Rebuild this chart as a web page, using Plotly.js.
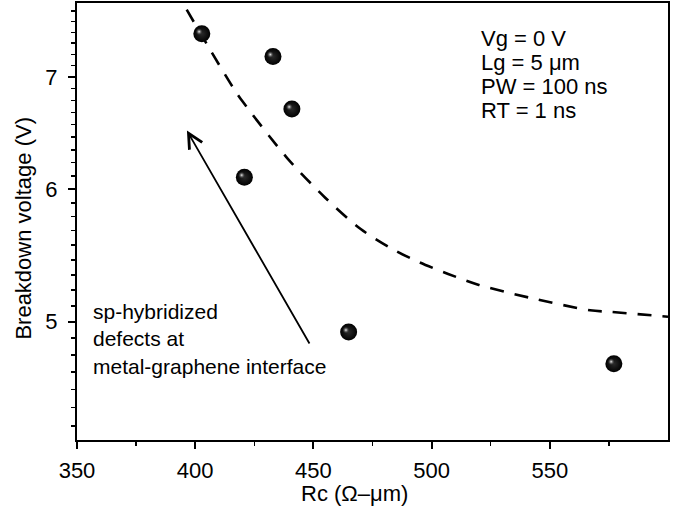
<!DOCTYPE html>
<html>
<head>
<meta charset="utf-8">
<script src="https://cdn.plot.ly/plotly-3.0.1.min.js"></script>
<style>html,body{margin:0;padding:0;background:#fff;}#chart{width:681px;height:508px;}</style>
</head>
<body>
<div id="chart"></div>
<script>
// Measured points: contact resistance Rc (Ω-μm) vs breakdown voltage (V)
const rc = [402.8, 432.9, 440.9, 420.8, 464.9, 577.1];
const vbd = [7.43, 7.20, 6.70, 6.10, 4.93, 4.72];

// Dashed guide curve
const fitRc = [396.4, 405, 416, 420, 439, 455, 470, 485, 495, 507, 520, 541, 567, 576, 600];
const fitV  = [7.68, 7.32, 6.90, 6.77, 6.26, 5.93, 5.68, 5.51, 5.425, 5.34, 5.26, 5.17, 5.08, 5.068, 5.035];

// Axis ticks
const xTickVals = [350, 400, 450, 500, 550];
const yTickVals = [5, 6, 7];
const yTickText = ['5', '6', '7'];
const yMinorVals = [4.333, 4.444, 4.556, 4.667, 4.778, 4.889,
                    5.111, 5.222, 5.333, 5.444, 5.556, 5.667, 5.778, 5.889,
                    6.111, 6.222, 6.333, 6.444, 6.556, 6.667, 6.778, 6.889,
                    7.111, 7.222, 7.333, 7.444, 7.556, 7.667];

// Texts
const xTitle = 'Rc (Ω–μm)';
const yTitle = 'Breakdown voltage (V)';
const condLines = ['Vg = 0 V', 'Lg = 5 μm', 'PW = 100 ns', 'RT = 1 ns'];
const noteText = 'sp-hybridized<br>defects at<br>metal-graphene interface';
// Arrow (tail -> head) in data units
const arrowTail = [448.7, 4.843];
const arrowHead = [396.5, 6.503];

const FONT = 'Arial, "Liberation Sans", sans-serif';
const xRange = [350, 600];
const yRange = [Math.log10(4.25), Math.log10(7.75)];
// highlight offset axes (shift spheres' highlight a few px up-left)
const pxPerX = 591 / (xRange[1] - xRange[0]);
const pxPerLog = 437 / (yRange[1] - yRange[0]);
const dx = 2.7 / pxPerX, dy = 2.0 / pxPerLog;

const traces = [
  {
    x: fitRc, y: fitV, mode: 'lines', type: 'scatter',
    line: {color: '#000', width: 2.6, dash: '14px,11px', shape: 'spline', smoothing: 0.8},
    hoverinfo: 'skip', showlegend: false
  },
  {
    x: rc, y: vbd, mode: 'markers', type: 'scatter',
    marker: {size: 17, color: '#000', line: {width: 0},
             gradient: {type: 'radial', color: '#2a2a2a'}},
    showlegend: false
  },
  {
    x: rc, y: vbd, mode: 'markers', type: 'scatter', xaxis: 'x2', yaxis: 'y2',
    marker: {size: 7, color: 'rgba(60,60,60,0)', line: {width: 0},
             gradient: {type: 'radial', color: '#f0f0f0'}},
    showlegend: false, hoverinfo: 'skip'
  }
];

const annotations = [
  {
    x: arrowHead[0], y: Math.log10(arrowHead[1]), xref: 'x', yref: 'y',
    ax: arrowTail[0], ay: Math.log10(arrowTail[1]), axref: 'x', ayref: 'y',
    text: '', showarrow: true, arrowhead: 5, arrowsize: 1.6, arrowwidth: 1.8, arrowcolor: '#000'
  },
  {
    x: 0.024, y: 0.232, xref: 'paper', yref: 'paper', xanchor: 'left', yanchor: 'middle',
    text: noteText, align: 'left', showarrow: false,
    font: {family: FONT, size: 21, color: '#000'}
  },
  {
    x: 0.4687, y: -0.1224, xref: 'paper', yref: 'paper', xanchor: 'center', yanchor: 'middle',
    text: xTitle, showarrow: false, font: {family: FONT, size: 22, color: '#000'}
  },
  {
    x: -0.0897, y: 0.486, xref: 'paper', yref: 'paper', xanchor: 'center', yanchor: 'middle',
    text: yTitle, textangle: -90, showarrow: false, font: {family: FONT, size: 22, color: '#000'}
  }
];
const condY = [0.918, 0.863, 0.808, 0.753];
condLines.forEach((t, i) => {
  annotations.push({
    x: 0.6806, y: condY[i], xref: 'paper', yref: 'paper', xanchor: 'left', yanchor: 'middle',
    text: t, showarrow: false, font: {family: FONT, size: 22, color: '#000'}
  });
});

const axisCommon = {
  showline: true, linewidth: 2, linecolor: '#000', mirror: true,
  showgrid: false, zeroline: false,
  ticks: 'outside', ticklen: 7, tickwidth: 2, tickcolor: '#000',
  tickfont: {family: FONT, size: 22, color: '#000'}
};

const layout = {
  width: 681, height: 508,
  margin: {l: 77, r: 13, t: 3, b: 68, pad: 0},
  paper_bgcolor: '#fff', plot_bgcolor: '#fff',
  font: {family: FONT, color: '#000'},
  showlegend: false,
  xaxis: Object.assign({}, axisCommon, {
    range: xRange, tickmode: 'array', tickvals: xTickVals,
    ticklabelstandoff: 3,
    minor: {tickmode: 'linear', tick0: 375, dtick: 50, ticks: 'outside', ticklen: 4, tickwidth: 1.5, tickcolor: '#000'}
  }),
  yaxis: Object.assign({}, axisCommon, {
    type: 'log', range: yRange, tickmode: 'array', tickvals: yTickVals, ticktext: yTickText,
    ticklabelstandoff: 6,
    minor: {tickmode: 'array', tickvals: yMinorVals, ticks: 'outside', ticklen: 4, tickwidth: 1.5, tickcolor: '#000'}
  }),
  xaxis2: {overlaying: 'x', range: [xRange[0] + dx, xRange[1] + dx], visible: false},
  yaxis2: {overlaying: 'y', type: 'log', range: [yRange[0] - dy, yRange[1] - dy], visible: false},
  annotations: annotations
};

Plotly.newPlot('chart', traces, layout, {staticPlot: true, displayModeBar: false});
</script>
</body>
</html>
